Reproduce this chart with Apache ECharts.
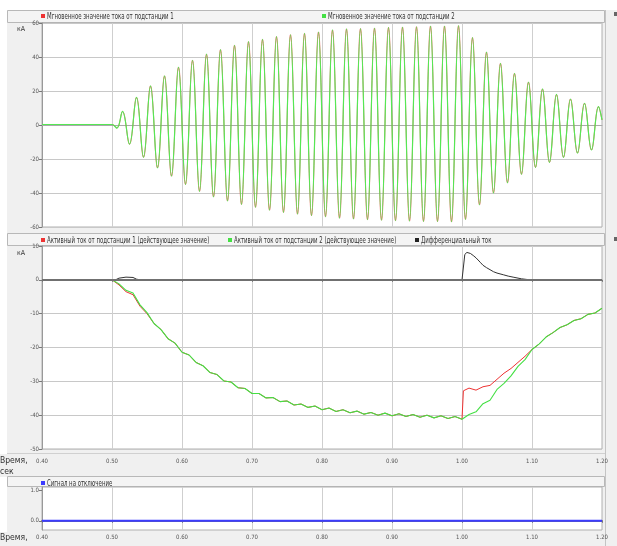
<!DOCTYPE html>
<html><head><meta charset="utf-8">
<script src="https://cdn.jsdelivr.net/npm/echarts@6/dist/echarts.min.js"></script>
<style>html,body{margin:0;padding:0;background:#fff}#c{width:617px;height:546px}</style>
</head><body><div id="c"></div>
<script>
const FONT = '"Liberation Sans Narrow","Arial Narrow","DejaVu Sans Condensed",sans-serif';

const topNames = ['Мгновенное значение тока от подстанции 1', 'Мгновенное значение тока от подстанции 2'];
const midNames = ['Активный ток от подстанции 1 (действующее значение)', 'Активный ток от подстанции 2 (действующее значение)', 'Дифференциальный ток'];
const botNames = ['Сигнал на отключение'];
const unitLabel = 'кА';
const timeLabel = ['Время,', 'сек'];

// instantaneous current, extremes [time s, kA]
const waveSub1 = [[0.40,0.3],[0.49,0.3],[0.50,0.3],[0.507,-1.8],[0.515,8.0],[0.525,-11.3],[0.535,16.3],[0.545,-19.0],[0.555,23.0],[0.565,-25.3],[0.575,28.9],[0.585,-30.1],[0.595,34.0],[0.605,-35.0],[0.615,38.1],[0.625,-39.0],[0.635,41.7],[0.645,-42.3],[0.655,44.3],[0.665,-44.7],[0.675,46.9],[0.685,-46.7],[0.695,49.0],[0.705,-48.4],[0.715,50.4],[0.725,-50.1],[0.735,52.0],[0.745,-51.4],[0.755,53.1],[0.765,-52.4],[0.775,53.9],[0.785,-53.3],[0.795,54.7],[0.805,-54.0],[0.815,55.9],[0.825,-54.8],[0.835,56.5],[0.845,-55.3],[0.855,56.7],[0.865,-55.7],[0.875,57.0],[0.885,-56.0],[0.895,57.4],[0.905,-56.3],[0.915,57.6],[0.925,-56.5],[0.935,57.8],[0.945,-56.7],[0.955,58.2],[0.965,-56.8],[0.975,58.2],[0.985,-57.0],[0.995,58.4],[1.005,-55.5],[1.015,51.4],[1.025,-47.0],[1.035,42.9],[1.045,-40.0],[1.055,36.3],[1.065,-34.0],[1.075,30.4],[1.085,-29.0],[1.095,25.3],[1.105,-25.0],[1.115,21.2],[1.125,-22.0],[1.135,18.0],[1.145,-19.0],[1.155,15.3],[1.165,-16.5],[1.175,12.8],[1.185,-14.7],[1.195,10.8],[1.20,3.0]];
const waveSub2 = [[0.40,0.3],[0.49,0.3],[0.50,0.3],[0.507,-1.8],[0.515,8.0],[0.525,-11.3],[0.535,16.3],[0.545,-19.0],[0.555,23.0],[0.565,-25.3],[0.575,28.9],[0.585,-30.1],[0.595,34.0],[0.605,-35.0],[0.615,38.1],[0.625,-39.0],[0.635,41.7],[0.645,-42.3],[0.655,44.3],[0.665,-44.7],[0.675,46.9],[0.685,-46.7],[0.695,49.0],[0.705,-48.4],[0.715,50.4],[0.725,-50.1],[0.735,52.0],[0.745,-51.4],[0.755,53.1],[0.765,-52.4],[0.775,53.9],[0.785,-53.3],[0.795,54.7],[0.805,-54.0],[0.815,55.9],[0.825,-54.8],[0.835,56.5],[0.845,-55.3],[0.855,56.7],[0.865,-55.7],[0.875,57.0],[0.885,-56.0],[0.895,57.4],[0.905,-56.3],[0.915,57.6],[0.925,-56.5],[0.935,57.8],[0.945,-56.7],[0.955,58.2],[0.965,-56.8],[0.975,58.2],[0.985,-57.0],[0.995,58.4],[1.005,-55.5],[1.015,51.4],[1.025,-47.0],[1.035,42.9],[1.045,-40.0],[1.055,36.3],[1.065,-34.0],[1.075,30.4],[1.085,-29.0],[1.095,25.3],[1.105,-25.0],[1.115,21.2],[1.125,-22.0],[1.135,18.0],[1.145,-19.0],[1.155,15.3],[1.165,-16.5],[1.175,12.8],[1.185,-14.7],[1.195,10.8],[1.20,3.0]];

// active current (rms), [time s, kA]
const activeSub1 = [[0.40,0],[0.50,0],[0.51,-1.5],[0.52,-3.5],[0.53,-4.4],[0.54,-7.8],[0.55,-10.0],[0.56,-12.9],[0.57,-14.7],[0.58,-17.4],[0.59,-18.7],[0.60,-21.4],[0.61,-22.2],[0.62,-24.4],[0.63,-25.4],[0.64,-27.4],[0.65,-28.0],[0.66,-29.9],[0.67,-30.2],[0.68,-31.9],[0.69,-32.1],[0.70,-33.6],[0.71,-33.6],[0.72,-34.9],[0.73,-34.8],[0.74,-36.0],[0.75,-35.8],[0.76,-37.0],[0.77,-36.7],[0.78,-37.7],[0.79,-37.3],[0.80,-38.4],[0.81,-37.9],[0.82,-38.9],[0.83,-38.4],[0.84,-39.3],[0.85,-38.8],[0.86,-39.7],[0.87,-39.2],[0.88,-40.0],[0.89,-39.4],[0.90,-40.2],[0.91,-39.6],[0.92,-40.4],[0.93,-39.8],[0.94,-40.6],[0.95,-40.0],[0.96,-40.8],[0.97,-40.2],[0.98,-41.0],[0.99,-40.4],[1.00,-41.2],[1.002,-32.8],[1.01,-32.0],[1.02,-32.6],[1.03,-31.6],[1.04,-31.2],[1.05,-29.4],[1.06,-27.6],[1.07,-26.2],[1.08,-24.4],[1.09,-22.6],[1.10,-20.6],[1.11,-19.0],[1.12,-16.9],[1.13,-15.6],[1.14,-14.1],[1.15,-13.3],[1.16,-12.0],[1.17,-11.5],[1.18,-10.2],[1.19,-9.8],[1.20,-8.4]];
const activeSub2 = [[0.40,0],[0.50,0],[0.51,-1.2],[0.52,-3.1],[0.53,-3.9],[0.54,-7.4],[0.55,-9.7],[0.56,-12.9],[0.57,-14.7],[0.58,-17.4],[0.59,-18.7],[0.60,-21.4],[0.61,-22.2],[0.62,-24.4],[0.63,-25.4],[0.64,-27.4],[0.65,-28.0],[0.66,-29.9],[0.67,-30.2],[0.68,-31.9],[0.69,-32.1],[0.70,-33.6],[0.71,-33.6],[0.72,-34.9],[0.73,-34.8],[0.74,-36.0],[0.75,-35.8],[0.76,-37.0],[0.77,-36.7],[0.78,-37.7],[0.79,-37.3],[0.80,-38.4],[0.81,-37.9],[0.82,-38.9],[0.83,-38.4],[0.84,-39.3],[0.85,-38.8],[0.86,-39.7],[0.87,-39.2],[0.88,-40.0],[0.89,-39.4],[0.90,-40.2],[0.91,-39.6],[0.92,-40.4],[0.93,-39.8],[0.94,-40.6],[0.95,-40.0],[0.96,-40.8],[0.97,-40.2],[0.98,-41.0],[0.99,-40.4],[1.00,-41.2],[1.01,-39.8],[1.02,-39.0],[1.03,-36.6],[1.04,-35.6],[1.05,-32.4],[1.06,-30.6],[1.07,-28.4],[1.08,-25.6],[1.09,-23.6],[1.10,-20.6],[1.11,-19.0],[1.12,-16.9],[1.13,-15.6],[1.14,-14.1],[1.15,-13.3],[1.16,-12.0],[1.17,-11.5],[1.18,-10.2],[1.19,-9.8],[1.20,-8.4]];
const diffCurrent = [[0.40,0],[0.505,0],[0.51,0.5],[0.52,0.8],[0.53,0.7],[0.535,0.2],[0.54,0],[1.00,0],[1.004,7.5],[1.007,8.1],[1.012,7.8],[1.016,7.2],[1.02,6.5],[1.026,5.2],[1.03,4.3],[1.035,3.6],[1.04,3.0],[1.045,2.4],[1.05,2.0],[1.059,1.5],[1.066,1.1],[1.073,0.8],[1.085,0.3],[1.097,0],[1.20,0]];
const tripSignal = [[0.40,0],[1.20,0]];

const colors = {red:'#ee3333', green:'#44e044', black:'#222222', blue:'#3c3cff'};

const chart = echarts.init(document.getElementById('c'), null, {renderer:'canvas'});

const lbl = {fontFamily: FONT, fontSize: 6, color: '#555'};
function xAx(gi, showLabel, margin) {
  return {type:'value', gridIndex: gi, min:0.4, max:1.2, interval:0.1,
    axisLine:{show:true, lineStyle:{color: gi===2 ? '#777' : '#aaa', width: gi===2 ? 2 : 1}},
    axisTick:{show:showLabel, length:2, lineStyle:{color:'#777'}},
    axisLabel:{show:showLabel, margin: margin, formatter: v => v.toFixed(2), ...lbl},
    splitLine:{show:true, lineStyle:{color:'#cfcfcf', width:1}}};
}
function yAx(gi, min, max, interval) {
  return {type:'value', gridIndex: gi, min, max, interval,
    axisLine:{show:true, lineStyle:{color:'#999'}},
    axisTick:{show:true, length:3, lineStyle:{color:'#777'}},
    axisLabel:{margin:3, ...lbl},
    splitLine:{show:true, lineStyle:{color:'#c8c8c8'}}};
}
// legend: icon only, names drawn as condensed text next to icons
function leg(name, left, top) {
  return {data:[name], left, top, padding:0, icon:'rect', itemWidth:4, itemHeight:4, itemGap:0,
    formatter: () => '', textStyle:{fontSize:1}};
}
const legTxt = (t, x, y) => ({type:'text', x, y, scaleX:0.75, silent:true, z:10,
  style:{text:t, x:0, y:0, font: '8px ' + FONT, fill:'#333', verticalAlign:'middle'}});
const txt = (t, x, y, size) => ({type:'text', left:x, top:y, silent:true, z:10,
  style:{text:t, font: size + 'px ' + FONT, fill:'#333'}});

const yBot = yAx(2, -0.3, 1.1, null);
delete yBot.interval;
yBot.axisLabel = {margin:3, ...lbl, customValues:[0,1], formatter: v => v.toFixed(1)};
yBot.axisTick = {show:true, length:3, customValues:[0,1], lineStyle:{color:'#777'}};
yBot.splitLine = {show:false};

const option = {
  animation:false,
  backgroundColor:'#f0f0f0',
  grid:[
    {left:42, width:560, top:23, height:204, show:true, backgroundColor:'#fff', borderColor:'#b0b0b0', borderWidth:1},
    {left:42, width:560, top:246, height:203, show:true, backgroundColor:'#fff', borderColor:'#b0b0b0', borderWidth:1},
    {left:42, width:560, top:487, height:43, show:true, backgroundColor:'#fff', borderColor:'#b0b0b0', borderWidth:1}
  ],
  xAxis:[xAx(0,false,0), xAx(1,true,9), xAx(2,true,4)],
  yAxis:[yAx(0,-60,60,20), yAx(1,-50,10,10), yBot],
  legend:[
    leg(topNames[0], 41, 14), leg(topNames[1], 322, 14),
    leg(midNames[0], 41, 238), leg(midNames[1], 228, 238), leg(midNames[2], 415, 238),
    leg(botNames[0], 41, 481)
  ],
  graphic:[
    {type:'rect', silent:true, z:-10, shape:{x:0,y:0,width:617,height:10}, style:{fill:'#fff'}},
    {type:'rect', silent:true, z:-10, shape:{x:0,y:10,width:7,height:444}, style:{fill:'#fff'}},
    {type:'rect', silent:true, z:-10, shape:{x:0,y:477,width:7,height:55}, style:{fill:'#fff'}},
    {type:'rect', silent:true, z:-5, shape:{x:7.5,y:10.5,width:597,height:12}, style:{fill:'#f4f4f4', stroke:'#b8b8b8', lineWidth:1}},
    {type:'rect', silent:true, z:-5, shape:{x:7.5,y:233.5,width:597,height:12}, style:{fill:'#f4f4f4', stroke:'#b8b8b8', lineWidth:1}},
    {type:'rect', silent:true, z:-5, shape:{x:7.5,y:476.5,width:597,height:10}, style:{fill:'#f4f4f4', stroke:'#b8b8b8', lineWidth:1}},
    {type:'line', silent:true, z:-5, shape:{x1:605.5,y1:10,x2:605.5,y2:546}, style:{stroke:'#c4c4c4', lineWidth:1}},
    {type:'line', silent:true, z:-5, shape:{x1:7,y1:453.5,x2:605,y2:453.5}, style:{stroke:'#d0d0d0', lineWidth:1}},
    {type:'rect', silent:true, z:-4, shape:{x:614,y:12,width:3,height:4}, style:{fill:'#666'}},
    {type:'rect', silent:true, z:-4, shape:{x:614,y:237,width:3,height:4}, style:{fill:'#666'}},
    legTxt(topNames[0], 47, 16.5), legTxt(topNames[1], 328, 16.5),
    legTxt(midNames[0], 47, 240.5), legTxt(midNames[1], 234, 240.5), legTxt(midNames[2], 421, 240.5),
    legTxt(botNames[0], 47, 483.5),
    txt(unitLabel, 17, 26, 7), txt(unitLabel, 17, 250, 7),
    txt(timeLabel[0], 0, 456, 8.5), txt(timeLabel[1], 0, 467, 8.5),
    txt(timeLabel[0], 0, 533, 8.5), txt(timeLabel[1], 0, 544, 8.5)
  ],
  series:[
    {name: topNames[0], type:'line', xAxisIndex:0, yAxisIndex:0, data: waveSub1, color: colors.red, showSymbol:false, smooth:0.4, lineStyle:{width:0.7}},
    {name: topNames[1], type:'line', xAxisIndex:0, yAxisIndex:0, data: waveSub2, color: colors.green, showSymbol:false, smooth:0.4, lineStyle:{width:1.2, color:'#55e855'}},
    {name: midNames[0], type:'line', xAxisIndex:1, yAxisIndex:1, data: activeSub1, color: colors.red, showSymbol:false, lineStyle:{width:1}},
    {name: midNames[1], type:'line', xAxisIndex:1, yAxisIndex:1, data: activeSub2, color: colors.green, showSymbol:false, lineStyle:{width:1.1}},
    {name: midNames[2], type:'line', xAxisIndex:1, yAxisIndex:1, data: diffCurrent, color: colors.black, showSymbol:false, lineStyle:{width:1, color:'#333'},
      markLine:{silent:true, symbol:'none', label:{show:false}, lineStyle:{color:'#707070', width:2, type:'solid'}, data:[{yAxis:0}]}},
    {name: botNames[0], type:'line', xAxisIndex:2, yAxisIndex:2, data: tripSignal, color: colors.blue, showSymbol:false, lineStyle:{width:2}}
  ]
};
chart.setOption(option);
</script></body></html>
